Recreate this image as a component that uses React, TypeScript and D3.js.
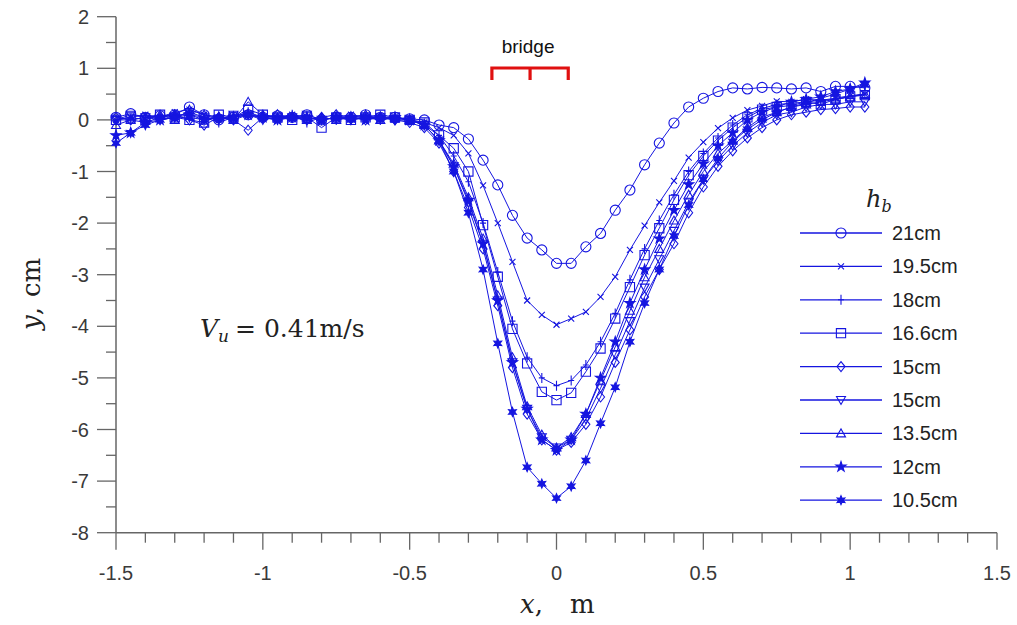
import React from "react";
import * as d3 from "d3";

const xValues = [
  -1.5, -1.45, -1.4, -1.35, -1.3, -1.25, -1.2, -1.15, -1.1, -1.05, -1.0, -0.95, -0.9, -0.85, -0.8, -0.75,
  -0.7, -0.65, -0.6, -0.55, -0.5, -0.45, -0.4, -0.35, -0.3, -0.25, -0.2, -0.15, -0.1, -0.05, 0, 0.05,
  0.1, 0.15, 0.2, 0.25, 0.3, 0.35, 0.4, 0.45, 0.5, 0.55, 0.6, 0.65, 0.7, 0.75, 0.8, 0.85, 0.9, 0.95, 1.0, 1.05,
];

const y21 = [
  0.05, 0.12, 0.05, 0.08, 0.1, 0.25, 0.1, 0.0, 0.05, 0.1, 0.05, 0.08, 0.05, 0.1, 0.0, 0.05, 0.05, 0.1, 0.05, 0.05, 0.02, 0.0,
  -0.1, -0.15, -0.37, -0.78, -1.26, -1.85, -2.29, -2.52, -2.78, -2.78, -2.46, -2.2, -1.75, -1.36, -0.87, -0.45, -0.06, 0.25,
  0.42, 0.55, 0.62, 0.6, 0.63, 0.62, 0.6, 0.62, 0.55, 0.65, 0.65, 0.62,
];
const y195 = [
  0.0, 0.05, 0.1, 0.05, 0.15, 0.2, 0.1, 0.05, 0.0, 0.1, 0.05, 0.05, 0.1, 0.05, 0.0, 0.05, 0.1, 0.05, 0.0, 0.05, 0.0, -0.05,
  -0.15, -0.3, -0.65, -1.27, -2.0, -2.75, -3.5, -3.78, -3.97, -3.85, -3.72, -3.43, -3.04, -2.52, -2.05, -1.6, -1.18, -0.73,
  -0.43, -0.16, 0.04, 0.19, 0.27, 0.36, 0.35, 0.4, 0.38, 0.42, 0.47, 0.5,
];
const y18 = [
  0.0, 0.0, 0.05, 0.05, 0.1, 0.1, 0.05, -0.05, 0.05, 0.15, 0.05, 0.0, 0.1, -0.05, 0.05, 0.0, 0.05, 0.05, 0.0, 0.05, 0.0, -0.1,
  -0.3, -0.7, -1.2, -2.0, -2.95, -3.9, -4.6, -5.0, -5.15, -5.05, -4.75, -4.3, -3.75, -3.1, -2.5, -1.95, -1.45, -1.0,
  -0.65, -0.35, -0.1, 0.1, 0.22, 0.3, 0.32, 0.35, 0.38, 0.4, 0.45, 0.5,
];
const y166 = [
  0.0, 0.05, 0.0, 0.1, 0.05, 0.0, -0.05, 0.1, 0.05, 0.2, 0.1, 0.05, 0.0, 0.05, -0.15, 0.05, 0.0, 0.05, 0.1, 0.05, 0.0, -0.05,
  -0.3, -0.55, -1.0, -2.04, -3.04, -4.05, -4.72, -5.27, -5.43, -5.29, -4.88, -4.43, -3.85, -3.24, -2.62, -2.1, -1.55, -1.07,
  -0.7, -0.4, -0.15, 0.05, 0.2, 0.25, 0.28, 0.35, 0.3, 0.4, 0.45, 0.48,
];
const y15a = [
  0.05, 0.0, -0.05, 0.05, 0.1, 0.0, -0.1, 0.05, 0.0, -0.2, 0.05, 0.1, 0.05, 0.0, 0.05, 0.1, 0.05, 0.0, 0.05, 0.0, -0.05, -0.15,
  -0.45, -1.0, -1.7, -2.5, -3.6, -4.8, -5.7, -6.2, -6.4, -6.25, -5.9, -5.37, -4.7, -4.07, -3.43, -2.9, -2.4, -1.8,
  -1.3, -0.9, -0.6, -0.35, -0.15, 0.0, 0.1, 0.15, 0.2, 0.22, 0.25, 0.25,
];
const y15b = [
  0.0, 0.1, 0.05, 0.0, 0.05, 0.15, 0.05, 0.0, 0.1, 0.1, 0.0, 0.05, 0.05, 0.1, 0.0, 0.05, 0.0, 0.05, 0.05, 0.0, 0.0, -0.1,
  -0.4, -0.9, -1.6, -2.4, -3.5, -4.7, -5.6, -6.15, -6.35, -6.2, -5.8, -5.2, -4.55, -3.9, -3.25, -2.7, -2.15, -1.6,
  -1.15, -0.8, -0.5, -0.25, -0.05, 0.1, 0.15, 0.25, 0.3, 0.3, 0.35, 0.35,
];
const y135 = [
  -0.1, 0.0, 0.05, 0.1, 0.0, 0.2, 0.1, 0.05, 0.0, 0.35, 0.1, 0.05, 0.05, 0.0, 0.05, 0.0, 0.05, 0.1, 0.0, 0.05, 0.0, -0.1,
  -0.4, -0.85, -1.5, -2.3, -3.4, -4.6, -5.55, -6.1, -6.35, -6.15, -5.7, -5.05, -4.4, -3.7, -3.05, -2.5, -1.95, -1.45,
  -1.0, -0.65, -0.4, -0.15, 0.05, 0.15, 0.25, 0.3, 0.35, 0.4, 0.45, 0.5,
];
const y12 = [
  -0.3, -0.25, -0.05, 0.0, 0.05, 0.1, 0.0, 0.05, 0.05, 0.1, 0.05, 0.0, 0.05, 0.05, 0.0, 0.05, 0.05, 0.0, 0.05, 0.05, 0.0, -0.1,
  -0.4, -0.9, -1.55, -2.4, -3.5, -4.7, -5.6, -6.2, -6.4, -6.2, -5.7, -5.0, -4.3, -3.55, -2.9, -2.3, -1.75, -1.25,
  -0.85, -0.5, -0.25, 0.0, 0.15, 0.25, 0.35, 0.4, 0.45, 0.55, 0.6, 0.72,
];
const y105 = [
  -0.45, -0.25, -0.1, 0.0, 0.05, 0.05, 0.0, 0.05, 0.05, 0.1, 0.05, 0.0, 0.05, 0.05, 0.0, 0.05, 0.0, 0.05, 0.05, 0.0, 0.0, -0.1,
  -0.4, -1.0, -1.8, -2.9, -4.33, -5.66, -6.73, -7.05, -7.33, -7.1, -6.6, -5.88, -5.18, -4.3, -3.55, -2.9, -2.25, -1.65,
  -1.15, -0.75, -0.42, -0.18, 0.0, 0.15, 0.25, 0.33, 0.42, 0.5, 0.6, 0.68,
];

const seriesLabels = ["21cm", "19.5cm", "18cm", "16.6cm", "15cm", "15cm", "13.5cm", "12cm", "10.5cm"];
const seriesValues = [y21, y195, y18, y166, y15a, y15b, y135, y12, y105];
const seriesMarkers = ["circle", "x", "plus", "square", "diamond", "triDown", "triUp", "star", "star6"];

const xTicks = [-1.5, -1, -0.5, 0, 0.5, 1, 1.5];
const yTicks = [2, 1, 0, -1, -2, -3, -4, -5, -6, -7, -8];
const bridgeX = [-0.22, -0.09, 0.04];

const W = 1017;
const H = 625;
const BLUE = "#1515e0";
const AXIS = "#666";
const SERIF = "'DejaVu Serif', 'Liberation Serif', serif";

const x = d3.scaleLinear().domain([-1.5, 1.5]).range([116, 997]);
const y = d3.scaleLinear().domain([-8, 2]).range([532.7, 16.7]);

function markerPath(kind: string): { d: string; fill: string } {
  const sym = (t: d3.SymbolType, size: number) => d3.symbol().type(t).size(size)() as string;
  switch (kind) {
    case "circle":
      return { d: sym(d3.symbolCircle, 80), fill: "none" };
    case "x":
      return { d: "M-3,-3L3,3M-3,3L3,-3", fill: "none" };
    case "plus":
      return { d: "M0,-5L0,5M-3,0L3,0", fill: "none" };
    case "square":
      return { d: sym(d3.symbolSquare, 85), fill: "none" };
    case "diamond":
      return { d: "M0,-5L4,0L0,5L-4,0Z", fill: "none" };
    case "triDown":
      return { d: "M-4.5,-3.5L4.5,-3.5L0,4.5Z", fill: "none" };
    case "triUp":
      return { d: "M-4.5,3.5L4.5,3.5L0,-4.5Z", fill: "none" };
    case "star":
      return { d: sym(d3.symbolStar, 32), fill: BLUE };
    case "star6": {
      const pts: string[] = [];
      for (let i = 0; i < 12; i++) {
        const r = i % 2 === 0 ? 4.5 : 2.2;
        const a = (Math.PI / 6) * i - Math.PI / 2;
        pts.push(`${(r * Math.cos(a)).toFixed(2)},${(r * Math.sin(a)).toFixed(2)}`);
      }
      return { d: "M" + pts.join("L") + "Z", fill: BLUE };
    }
    default:
      return { d: sym(d3.symbolCircle, 60), fill: "none" };
  }
}

const line = d3
  .line<[number, number]>()
  .x((d) => x(d[0]))
  .y((d) => y(d[1]));

export default function App() {
  const xMinor = d3.range(-1.5, 1.5001, 0.1).map((v) => +v.toFixed(2));
  const yMinor = d3.range(-8, 2.001, 0.5);
  const legendY0 = 233;
  const legendStep = 33.4;
  return (
    <svg
      width={W}
      height={H}
      style={{ position: "absolute", left: 0, top: 0, background: "#fff", display: "block" }}
      fontFamily="'Liberation Sans', Arial, sans-serif"
    >
      <rect x={0} y={0} width={W} height={H} fill="#fff" />
      {/* axes */}
      <line x1={x(-1.5)} x2={x(1.5)} y1={y(-8)} y2={y(-8)} stroke={AXIS} strokeWidth={1.5} />
      <line x1={x(-1.5)} x2={x(-1.5)} y1={y(2)} y2={y(-8)} stroke={AXIS} strokeWidth={1.5} />
      {xMinor.map((v, i) => {
        const major = Math.abs(v * 2 - Math.round(v * 2)) < 1e-6;
        return (
          <line key={"xm" + i} x1={x(v)} x2={x(v)} y1={y(-8)} y2={y(-8) + (major ? 17 : 10)} stroke={AXIS} strokeWidth={1.3} />
        );
      })}
      {yMinor.map((v, i) => {
        const major = Math.abs(v - Math.round(v)) < 1e-6;
        return (
          <line key={"ym" + i} x1={x(-1.5)} x2={x(-1.5) - (major ? 19 : 10)} y1={y(v)} y2={y(v)} stroke={AXIS} strokeWidth={1.3} />
        );
      })}
      {xTicks.map((v) => (
        <text key={"xt" + v} x={x(v)} y={580} textAnchor="middle" fontSize={20} fill="#3a3a3a">
          {String(v)}
        </text>
      ))}
      {yTicks.map((v) => (
        <text key={"yt" + v} x={89} y={y(v) + 7} textAnchor="end" fontSize={20} fill="#3a3a3a">
          {String(v)}
        </text>
      ))}
      {/* axis titles */}
      <text y={613} fontSize={26} fontFamily={SERIF} fill="#222">
        <tspan x={520} fontStyle="italic">x</tspan>
        <tspan>,</tspan>
        <tspan x={570}>m</tspan>
      </text>
      <text transform="translate(40,292) rotate(-90)" fontSize={26} fontFamily={SERIF} fill="#222">
        <tspan x={-38} fontStyle="italic">y</tspan>
        <tspan>,</tspan>
        <tspan x={-5}>cm</tspan>
      </text>
      {/* annotation */}
      <text x={200} y={337} fontSize={25} fontFamily={SERIF} fill="#222">
        <tspan fontStyle="italic">V</tspan>
        <tspan fontStyle="italic" fontSize={17} dy={5}>u</tspan>
        <tspan dy={-5} dx={6}>= 0.41m/s</tspan>
      </text>
      {/* bridge */}
      <text x={x(-0.09) - 2} y={53} textAnchor="middle" fontSize={19} fill="#111">
        bridge
      </text>
      <path
        d={`M${x(bridgeX[0])},80L${x(bridgeX[0])},68L${x(bridgeX[2])},68L${x(bridgeX[2])},80M${x(bridgeX[1])},68L${x(bridgeX[1])},80`}
        fill="none"
        stroke="#e01010"
        strokeWidth={3.2}
      />
      {/* series */}
      {seriesValues.map((vals, si) => {
        const pts = xValues.map((xv, i) => [xv, vals[i]] as [number, number]);
        const m = markerPath(seriesMarkers[si]);
        return (
          <g key={"s" + si}>
            <path d={line(pts) as string} fill="none" stroke={BLUE} strokeWidth={1} />
            {pts.map((p, i) => (
              <path
                key={i}
                d={m.d}
                transform={`translate(${x(p[0])},${y(p[1])})`}
                fill={m.fill}
                stroke={BLUE}
                strokeWidth={1.1}
              />
            ))}
          </g>
        );
      })}
      {/* legend */}
      <text x={866} y={207} fontSize={24} fontFamily={SERIF} fontStyle="italic" fill="#222">
        h<tspan fontSize={16} dy={5}>b</tspan>
      </text>
      {seriesLabels.map((lab, i) => {
        const ly = legendY0 + i * legendStep;
        const m = markerPath(seriesMarkers[i]);
        return (
          <g key={"lg" + i}>
            <line x1={800} x2={882} y1={ly} y2={ly} stroke={BLUE} strokeWidth={1.3} />
            <path d={m.d} transform={`translate(841,${ly})`} fill={m.fill} stroke={BLUE} strokeWidth={1.1} />
            <text x={892} y={ly + 7} fontSize={20} fill="#222">
              {lab}
            </text>
          </g>
        );
      })}
    </svg>
  );
}
